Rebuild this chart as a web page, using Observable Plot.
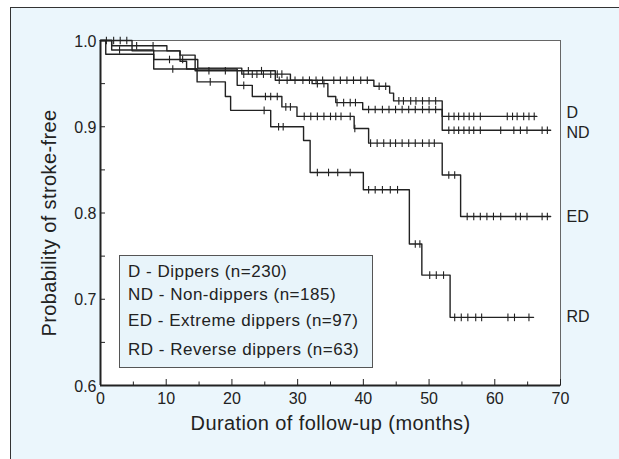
<!DOCTYPE html>
<html><head><meta charset="utf-8">
<script src="https://cdn.jsdelivr.net/npm/d3@7"></script>
<script src="https://cdn.jsdelivr.net/npm/@observablehq/plot@0.6"></script>
<style>
html,body{margin:0;padding:0;background:#fff;}
#wrap{position:relative;width:619px;height:459px;overflow:hidden;font-family:"Liberation Sans",Arial,Helvetica,sans-serif;color:#222;}
#bg{position:absolute;left:10px;top:7px;right:0;bottom:0;background:#ebf6fc;border-left:1.5px solid #333;border-top:1.5px solid #333;}
#chart{position:absolute;left:0;top:0;}
#legend{position:absolute;left:119px;top:255px;width:254px;height:113px;box-sizing:border-box;background:#e8f4fa;border:1.5px solid #555;}
#legend div{position:absolute;left:8px;font-size:17px;letter-spacing:0.5px;line-height:18px;white-space:nowrap;color:#222;}
</style>
</head><body>
<div id="wrap"><div id="bg"></div><div id="chart"></div><div id="legend"></div></div>
<script>
// ---- data ----
const groups = ["D", "ND", "ED", "RD"];
const groupNames = ["Dippers", "Non-dippers", "Extreme dippers", "Reverse dippers"];
const groupN = [230, 185, 97, 63];

// Kaplan-Meier step times (months) and survival after each step
const D_t = [0, 1.7, 10.1, 12.1, 14.4, 26.6, 41.6, 44.0, 44.6, 52.0, 66.4];
const D_s = [1.0, 0.994, 0.988, 0.983, 0.965, 0.954, 0.947, 0.939, 0.930, 0.912, 0.912];
const ND_t = [0, 1.7, 8.1, 14.8, 21.5, 28.9, 32.2, 34.6, 35.8, 39.9, 52.0, 68.5];
const ND_s = [1.0, 0.989, 0.978, 0.968, 0.961, 0.954, 0.950, 0.935, 0.928, 0.920, 0.896, 0.896];
const ED_t = [0, 4.8, 12.1, 13.1, 20.8, 23.1, 27.6, 29.9, 38.6, 40.8, 52.0, 54.8, 68.5];
const ED_s = [1.0, 0.988, 0.976, 0.967, 0.948, 0.935, 0.923, 0.912, 0.898, 0.881, 0.844, 0.796, 0.796];
const RD_t = [0, 0.8, 8.1, 14.7, 19.0, 19.8, 25.9, 30.9, 31.9, 40.0, 47.0, 48.9, 53.2, 65.9];
const RD_s = [1.0, 0.984, 0.967, 0.952, 0.935, 0.919, 0.900, 0.884, 0.847, 0.827, 0.764, 0.728, 0.679, 0.679];

// censored observation times (months)
const D_c = [5.5, 8.0, 16.5, 19.0, 22.5, 24.5, 27.2, 28.4, 29.6, 30.8, 31.8, 32.8, 33.8, 35.5, 36.5, 37.5, 38.5, 39.6, 40.6, 42.4, 43.4, 45.4, 46.1, 47.2, 48.0, 49.0, 50.0, 51.0, 53.0, 53.8, 54.5, 55.3, 56.1, 56.8, 57.8, 61.9, 62.7, 63.4, 64.4, 65.2, 66.0];
const ND_c = [2.9, 10.5, 12.5, 21.8, 23.1, 23.8, 24.8, 25.9, 26.9, 27.6, 33.0, 34.0, 36.0, 37.0, 38.0, 38.8, 40.8, 41.8, 42.9, 43.9, 44.9, 45.9, 46.9, 47.9, 49.0, 50.0, 51.0, 53.0, 53.8, 54.5, 55.3, 56.1, 56.8, 57.8, 60.9, 62.9, 63.9, 64.9, 67.2, 68.0];
const ED_c = [0.9, 2.0, 3.0, 4.0, 21.8, 25.1, 25.9, 26.9, 28.2, 28.9, 31.0, 32.0, 33.0, 34.0, 35.0, 35.8, 36.6, 38.0, 38.7, 41.1, 42.1, 43.1, 44.1, 44.9, 45.9, 46.9, 47.9, 49.0, 50.0, 50.8, 53.0, 53.9, 55.8, 56.8, 57.8, 58.8, 59.8, 60.9, 63.2, 63.9, 64.9, 67.2, 68.0];
const RD_c = [11.0, 16.7, 24.9, 27.1, 27.8, 33.0, 34.7, 36.1, 38.0, 40.8, 41.8, 42.9, 44.1, 45.2, 47.9, 48.6, 50.1, 51.1, 52.2, 53.9, 54.9, 55.9, 57.1, 58.0, 62.0, 63.0, 65.2];

const xDomain = [0, 70];
const yDomain = [0.6, 1.0];
const xMajor = [0, 10, 20, 30, 40, 50, 60, 70];
const xMinor = [5, 15, 25, 35, 45, 55, 65];
const yMajor = [0.6, 0.7, 0.8, 0.9, 1.0];
const yMinor = [0.65, 0.75, 0.85, 0.95];
const xTitle = "Duration of follow-up (months)";
const yTitle = "Probability of stroke-free";

// ---- build tables ----
const curves = [
  {g: "D", t: D_t, s: D_s, c: D_c},
  {g: "ND", t: ND_t, s: ND_s, c: ND_c},
  {g: "ED", t: ED_t, s: ED_s, c: ED_c},
  {g: "RD", t: RD_t, s: RD_s, c: RD_c}
];
function survAt(c, t) {
  let s = c.s[0];
  for (let i = 0; i < c.t.length; i++) if (c.t[i] <= t) s = c.s[i];
  return s;
}
const stepRows = curves.flatMap(c => c.t.map((t, i) => ({g: c.g, t, s: c.s[i]})));
const censorRows = curves.flatMap(c => c.c.map(t => ({g: c.g, t, s: survAt(c, t)})));
const labelDy = {D: -4, ND: 3, ED: 0, RD: 0};
const endRows = curves.map(c => ({g: c.g, s: c.s[c.s.length - 1]}));

const vbar = {draw(ctx, size) { const r = Math.sqrt(size / Math.PI); ctx.moveTo(0, -r); ctx.lineTo(0, r); }};
const font = "'Liberation Sans', Arial, Helvetica, sans-serif";
const ink = "#222";

const endLabels = groups.map(g => Plot.text(endRows.filter(r => r.g === g), {
  y: "s", text: "g", frameAnchor: "right", dx: 6, dy: labelDy[g], textAnchor: "start", fontSize: 16, fill: ink
}));

const plot = Plot.plot({
  width: 619, height: 459,
  marginLeft: 100, marginRight: 59, marginTop: 40, marginBottom: 74,
  style: {background: "transparent", fontFamily: font, color: ink, overflow: "visible"},
  x: {domain: xDomain, label: null},
  y: {domain: yDomain, label: null},
  marks: [
    Plot.frame({fill: "white", stroke: "#666", strokeWidth: 1}),
    Plot.axisX({ticks: xMajor, label: null, tickSize: 0, tickPadding: 7, tickFormat: d => String(d), fontSize: 16, fill: ink}),
    Plot.axisX({ticks: xMajor, label: null, tickSize: -6, tickFormat: () => "", stroke: ink}),
    Plot.axisX({ticks: xMinor, label: null, tickSize: -3.5, tickFormat: () => "", stroke: ink}),
    Plot.axisY({ticks: yMajor, label: null, tickSize: 0, tickPadding: 4, tickFormat: d3.format(".1f"), fontSize: 16, fill: ink, dy: 1}),
    Plot.axisY({ticks: yMajor.concat(yMinor), label: null, tickSize: -5, tickFormat: () => "", stroke: ink}),
    Plot.ruleX([xDomain[0]], {stroke: ink, strokeWidth: 2}),
    Plot.ruleY([yDomain[0]], {stroke: ink, strokeWidth: 2}),
    Plot.line(stepRows, {x: "t", y: "s", z: "g", curve: "step-after", stroke: ink, strokeWidth: 1.4}),
    Plot.dot(censorRows, {x: "t", y: "s", symbol: vbar, r: 3.8, fill: "none", stroke: ink, strokeWidth: 1.1}),
    ...endLabels,
    Plot.text([xTitle], {text: d => d, frameAnchor: "bottom", lineAnchor: "middle", textAnchor: "middle", dy: 38, fontSize: 20, fill: ink}),
    Plot.text([yTitle], {text: d => d, frameAnchor: "left", lineAnchor: "middle", textAnchor: "middle", dx: -51, dy: 10, rotate: -90, fontSize: 20, fill: ink})
  ]
});
document.getElementById("chart").appendChild(plot);
plot.querySelectorAll("text").forEach(el => {
  const txt = el.textContent;
  if (txt === xTitle || txt === yTitle) el.style.letterSpacing = "0.4px";
});

// legend
const legendTops = [7, 29.5, 56, 84.5];
const legend = document.getElementById("legend");
groups.forEach((g, i) => {
  const d = document.createElement("div");
  d.style.top = legendTops[i] + "px";
  d.textContent = `${g} - ${groupNames[i]} (n=${groupN[i]})`;
  legend.appendChild(d);
});
</script>
</body></html>
